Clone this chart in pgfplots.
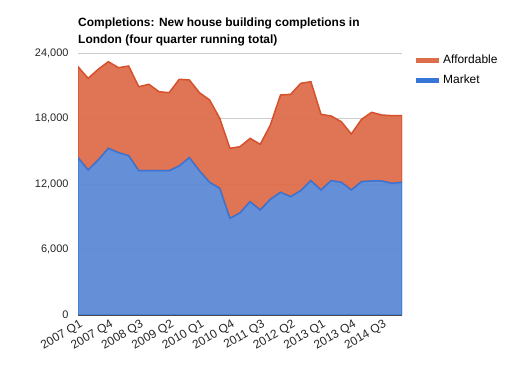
\documentclass[border=0pt]{standalone}
\usepackage{pgfplots}
\pgfplotsset{compat=1.18}
\usepackage{pgfplotstable}
\usepackage{fontspec}
\setmainfont{Liberation Sans}
\definecolor{mfill}{RGB}{93,138,214}
\definecolor{mline}{RGB}{55,118,215}
\definecolor{afill}{RGB}{221,110,76}
\definecolor{aline}{RGB}{214,80,44}
\pgfplotstableread{
x market afford
0 14410 8335
1 13282 8401
2 14198 8309
3 15267 7936
4 14868 7786
5 14593 8216
6 13218 7695
7 13218 7915
8 13218 7237
9 13218 7145
10 13649 7942
11 14410 7117
12 13200 7163
13 12153 7542
14 11603 6415
15 8855 6416
16 9350 6067
17 10382 5801
18 9618 6016
19 10595 6810
20 11237 8916
21 10840 9374
22 11389 9832
23 12305 9069
24 11450 6932
25 12305 5924
26 12153 5557
27 11450 5130
28 12214 5710
29 12275 6290
30 12275 6046
31 12061 6198
32 12153 6106
}\datatable
\begin{document}
\begin{tikzpicture}
\path (0,0) rectangle (516bp,375bp);
\node[anchor=base west, inner sep=0pt, font=\bfseries\fontsize{12}{14}\selectfont] at (78bp,348bp) {Completions: New house building completions in};
\node[anchor=base west, inner sep=0pt, font=\bfseries\fontsize{12}{14}\selectfont] at (78bp,331bp) {London (four quarter running total)};
\begin{axis}[
  at={(78bp,60bp)}, anchor=south west,
  scale only axis, width=324bp, height=262bp,
  xmin=0, xmax=32, ymin=0, ymax=24000,
  stack plots=y,
  axis x line*=bottom, axis y line*=left,
  y axis line style={draw=none},
  x axis line style={draw=black!70, line width=1pt, -},
  ytick={0,6000,12000,18000,24000},
  xtick={0,3,...,30},
  xticklabels={2007 Q1,2007 Q4,2008 Q3,2009 Q2,2010 Q1,2010 Q4,2011 Q3,2012 Q2,2013 Q1,2013 Q4,2014 Q3},
  major tick length=0pt,
  ymajorgrids, grid style={black!20, line width=0.6pt},
  scaled y ticks=false,
  /pgf/number format/1000 sep={,},
  /pgf/number format/assume math mode=true,
  yticklabel style={font=\fontsize{11}{13}\selectfont, text=black!85, xshift=-6bp},
  xticklabel style={font=\fontsize{12}{13}\selectfont, text=black!85, rotate=30, anchor=north east, inner sep=1bp, yshift=-3bp},
  legend style={at={(1,1)}, anchor=north west, xshift=8bp, yshift=2bp, draw=none, fill=none, font=\fontsize{12}{14}\selectfont, row sep=6bp},
  legend cell align=left,
  reverse legend,
]
\addplot[draw=mline, line width=1.5pt, fill=mfill, fill opacity=0.95, legend image code/.code={\draw[line width=5bp, mline] (0,0) -- (23bp,0);}] table[x=x, y=market] {\datatable} \closedcycle;
\addlegendentry{Market}
\addplot[draw=aline, line width=1.5pt, fill=afill, fill opacity=0.95, legend image code/.code={\draw[line width=5bp, afill] (0,0) -- (23bp,0);}] table[x=x, y=afford] {\datatable} \closedcycle;
\addlegendentry{Affordable}
\end{axis}
\end{tikzpicture}
\end{document}
